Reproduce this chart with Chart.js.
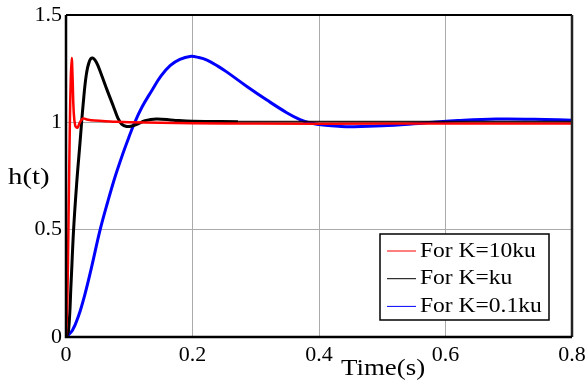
<!DOCTYPE html>
<html>
<head>
<meta charset="utf-8">
<script src="https://cdn.jsdelivr.net/npm/chart.js@4.4.1/dist/chart.umd.min.js"></script>
<style>
    html, body { margin: 0; padding: 0; background: #fff; }
    canvas { display: block; }
</style>
</head>
<body>
<canvas id="myChart" width="587" height="384"></canvas>
<script>
// step responses h(t) for three gains
var tRed = [0, 0.002, 0.004, 0.006, 0.0075, 0.009, 0.0105, 0.012, 0.0145, 0.018, 0.022, 0.027, 0.033, 0.045, 0.07, 0.1, 0.2, 0.3, 0.5, 0.8];
var hRed = [0, 0.15, 0.55, 0.97, 1.2, 1.30, 1.2, 1.06, 0.985, 0.975, 1.0, 1.018, 1.013, 1.008, 1.004, 1.0, 0.996, 0.994, 0.994, 0.994];

var tBlack = [0, 0.004, 0.008, 0.012, 0.017, 0.022, 0.027, 0.032, 0.037, 0.042, 0.048, 0.055, 0.065, 0.075, 0.082, 0.088, 0.096, 0.104, 0.112, 0.125, 0.143, 0.17, 0.2, 0.272];
var hBlack = [0, 0.03, 0.25, 0.5, 0.72, 0.9, 1.08, 1.22, 1.285, 1.30, 1.28, 1.23, 1.15, 1.074, 1.02, 0.992, 0.981, 0.983, 0.99, 1.008, 1.016, 1.01, 1.005, 1.003];

var tBlue = [0, 0.01, 0.02, 0.03, 0.04, 0.054, 0.066, 0.078, 0.09, 0.1, 0.108, 0.12, 0.135, 0.15, 0.165, 0.18, 0.196, 0.21, 0.223, 0.24, 0.254, 0.286, 0.317, 0.349, 0.37, 0.385, 0.41, 0.435, 0.455, 0.5, 0.55, 0.58, 0.62, 0.68, 0.74, 0.8];
var hBlue = [0, 0.03, 0.1, 0.2, 0.32, 0.5, 0.63, 0.75, 0.855, 0.935, 0.995, 1.07, 1.145, 1.215, 1.265, 1.293, 1.307, 1.302, 1.29, 1.262, 1.235, 1.167, 1.105, 1.045, 1.013, 0.998, 0.986, 0.981, 0.98, 0.984, 0.993, 1.0, 1.008, 1.015, 1.014, 1.01];

var seriesLabels = ['For K=10ku', 'For K=ku', 'For K=0.1ku'];
var xTicks = [0, 0.2, 0.4, 0.6, 0.8];
var yTicks = [0, 0.5, 1, 1.5];

var serif = "'Liberation Serif', 'Times New Roman', serif";

function toPoints(ts, hs) {
    return ts.map((t, i) => ({ x: t, y: hs[i] }));
}

// box round the plot: thick left/bottom axes, thinner top/right,
// plus the dark reference line at h = 1
const framePlugin = {
    id: 'frame',
    afterDatasetsDraw(chart) {
        var a = chart.chartArea;
        var ctx = chart.ctx;
        var y1 = Math.round(chart.scales.y.getPixelForValue(1)) - 0.5;
        ctx.save();
        ctx.strokeStyle = 'rgba(20,0,0,0.9)';
        ctx.lineWidth = 1.5;
        ctx.beginPath();
        ctx.moveTo(chart.scales.x.getPixelForValue(0.272), y1);
        ctx.lineTo(a.right, y1);
        ctx.stroke();

        ctx.strokeStyle = '#000';
        ctx.lineWidth = 2;
        ctx.beginPath();
        ctx.moveTo(a.left, a.top);
        ctx.lineTo(a.right, a.top);
        ctx.stroke();
        ctx.strokeStyle = '#222';
        ctx.lineWidth = 2.5;
        ctx.beginPath();
        ctx.moveTo(a.right, a.top);
        ctx.lineTo(a.right, a.bottom);
        ctx.stroke();
        ctx.strokeStyle = '#000';
        ctx.lineWidth = 2.5;
        ctx.beginPath();
        ctx.moveTo(a.left, a.top);
        ctx.lineTo(a.left, a.bottom);
        ctx.lineTo(a.right, a.bottom);
        ctx.stroke();
        ctx.restore();
    }
};

// legend box in the lower right corner of the plot
const boxLegend = {
    id: 'boxLegend',
    afterDraw(chart) {
        var a = chart.chartArea;
        var ctx = chart.ctx;
        var w = 169, h = 86;
        var x0 = a.right - 23 - w;
        var y0 = a.bottom - 17 - h;
        ctx.save();
        ctx.fillStyle = '#fff';
        ctx.fillRect(x0, y0, w, h);
        ctx.strokeStyle = '#000';
        ctx.lineWidth = 1.5;
        ctx.strokeRect(x0, y0, w, h);
        ctx.font = '21px ' + serif;
        ctx.textBaseline = 'middle';
        chart.data.datasets.forEach((ds, i) => {
            var cy = y0 + 17 + i * 27.7;
            ctx.strokeStyle = ds.borderColor;
            ctx.lineWidth = 1;
            ctx.beginPath();
            ctx.moveTo(x0 + 7, cy);
            ctx.lineTo(x0 + 36, cy);
            ctx.stroke();
            ctx.fillStyle = '#000';
            ctx.save();
            ctx.translate(x0 + 40, cy);
            ctx.scale(1.12, 1);
            ctx.fillText(ds.label, 0, 0);
            ctx.restore();
        });
        ctx.restore();
    }
};

// axis names placed the way the figure has them
const axisNames = {
    id: 'axisNames',
    afterDraw(chart) {
        var ctx = chart.ctx;
        ctx.save();
        ctx.fillStyle = '#000';
        ctx.font = '24px ' + serif;
        ctx.textBaseline = 'middle';
        ctx.textAlign = 'left';
        ctx.save();
        ctx.translate(8, 178);
        ctx.scale(1.2, 1);
        ctx.fillText('h(t)', 0, 0);
        ctx.restore();
        ctx.textBaseline = 'alphabetic';
        ctx.save();
        ctx.translate(341, 375);
        ctx.scale(1.12, 1);
        ctx.fillText('Time(s)', 0, 0);
        ctx.restore();
        ctx.restore();
    }
};

var ctx = document.getElementById('myChart').getContext('2d');
var myChart = new Chart(ctx, {
    type: 'line',
    data: {
        datasets: [
            { label: seriesLabels[0], data: toPoints(tRed, hRed), borderColor: '#ff0000', borderWidth: 2.5 },
            { label: seriesLabels[1], data: toPoints(tBlack, hBlack), borderColor: '#000000', borderWidth: 3 },
            { label: seriesLabels[2], data: toPoints(tBlue, hBlue), borderColor: '#0000ff', borderWidth: 3 }
        ].map(d => Object.assign(d, { fill: false, pointRadius: 0, tension: 0.4 }))
    },
    options: {
        responsive: false,
        animation: false,
        devicePixelRatio: 1,
        layout: { padding: { top: 15, right: 15, left: 0, bottom: 0 } },
        plugins: {
            legend: { display: false },
            tooltip: { enabled: false }
        },
        scales: {
            x: {
                type: 'linear',
                min: 0,
                max: 0.8,
                afterBuildTicks: s => { s.ticks = xTicks.map(v => ({ value: v })); },
                afterFit: s => { s.height = 47; s.paddingLeft = 0; s.paddingRight = 0; },
                border: { display: false },
                grid: {
                    color: '#aaaaaa',
                    lineWidth: 1,
                    drawTicks: false
                },
                ticks: {
                    color: '#000',
                    padding: 5,
                    maxRotation: 0,
                    font: { family: serif, size: 22 },
                    callback: v => String(v)
                }
            },
            y: {
                min: 0,
                max: 1.5,
                afterBuildTicks: s => { s.ticks = yTicks.map(v => ({ value: v })); },
                afterFit: s => { s.width = 66; s.paddingTop = 0; s.paddingBottom = 0; },
                border: { display: false },
                grid: {
                    color: '#aaaaaa',
                    lineWidth: 1,
                    drawTicks: false
                },
                ticks: {
                    color: '#000',
                    padding: 4,
                    font: { family: serif, size: 22 },
                    callback: v => String(v)
                }
            }
        }
    },
    plugins: [framePlugin, boxLegend, axisNames]
});
</script>
</body>
</html>
